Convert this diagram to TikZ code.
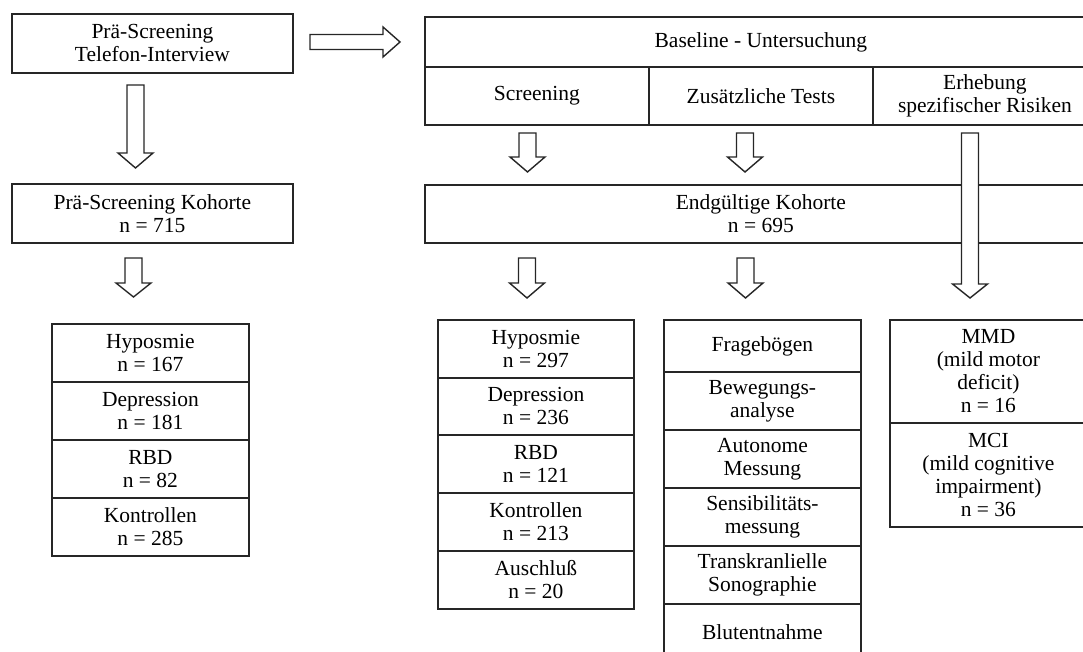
\documentclass[tikz,border=0pt]{standalone}
\usepackage{fontspec}
\setmainfont{Liberation Serif}
\newcommand\fs{\fontsize{21.5}{23}\selectfont}
\tikzset{
  box/.style={draw=black!85, line width=1.8pt, fill=white, inner sep=0pt,
              anchor=north west, align=center, font=\fs},
  blk/.style={draw=black!85, line width=1.4pt, fill=white, line join=miter},
}
\newcommand\blockdown[4]{%
  \draw[blk] ({#1-8.5},#2) -- ({#1+8.5},#2) -- ({#1+8.5},#3) -- ({#1+17.5},#3)
    -- (#1,#4) -- ({#1-17.5},#3) -- ({#1-8.5},#3) -- cycle;}
\begin{document}
\begin{tikzpicture}[x=1pt,y=-1pt]
\useasboundingbox (0,0) rectangle (1083,652);
\clip (0,0) rectangle (1083,652);

% left column
\node[box, minimum width=281pt, minimum height=59pt] (tel) at (11,13) {Prä-Screening\\Telefon-Interview};
\node[box, minimum width=281pt, minimum height=59pt] (psk) at (11,183) {Prä-Screening Kohorte\\n = 715};
\node[box, minimum width=197pt, minimum height=58pt] (lh) at (51,323) {Hyposmie\\n = 167};
\node[box, minimum width=197pt, minimum height=58pt] (ld) at (51,381) {Depression\\n = 181};
\node[box, minimum width=197pt, minimum height=58pt] (lr) at (51,439) {RBD\\n = 82};
\node[box, minimum width=197pt, minimum height=58pt] (lk) at (51,497) {Kontrollen\\n = 285};

% baseline
\node[box, minimum width=672pt, minimum height=50pt] (base) at (424,16) {Baseline - Untersuchung};
\node[box, minimum width=224pt, minimum height=58pt] (scr) at (424,66) {Screening};
\node[box, minimum width=224pt, minimum height=58pt] (zus) at (648,66) {Zusätzliche Tests};
\node[box, minimum width=224pt, minimum height=58pt] (erh) at (872,66) {Erhebung\\spezifischer Risiken};

% endgueltige kohorte
\node[box, minimum width=672pt, minimum height=58pt] (end) at (424,184) {Endgültige Kohorte\\n = 695};

% stack 2
\node[box, minimum width=196pt, minimum height=58pt] (rh) at (437,319) {Hyposmie\\n = 297};
\node[box, minimum width=196pt, minimum height=57pt] (rd) at (437,377) {Depression\\n = 236};
\node[box, minimum width=196pt, minimum height=58pt] (rr) at (437,434) {RBD\\n = 121};
\node[box, minimum width=196pt, minimum height=58pt] (rk) at (437,492) {Kontrollen\\n = 213};
\node[box, minimum width=196pt, minimum height=58pt] (ra) at (437,550) {Auschluß\\n = 20};

% stack 3
\node[box, minimum width=197pt, minimum height=52pt] (t1) at (663,319) {Fragebögen};
\node[box, minimum width=197pt, minimum height=58pt] (t2) at (663,371) {Bewegungs-\\analyse};
\node[box, minimum width=197pt, minimum height=58pt] (t3) at (663,429) {Autonome\\Messung};
\node[box, minimum width=197pt, minimum height=58pt] (t4) at (663,487) {Sensibilitäts-\\messung};
\node[box, minimum width=197pt, minimum height=58pt] (t5) at (663,545) {Transkranlielle\\Sonographie};
\node[box, minimum width=197pt, minimum height=56pt] (t6) at (663,603) {Blutentnahme};

% stack 4
\node[box, minimum width=197pt, minimum height=103pt] (mmd) at (889,319) {MMD\\(mild motor\\deficit)\\n = 16};
\node[box, minimum width=197pt, minimum height=104pt] (mci) at (889,422) {MCI\\(mild cognitive\\impairment)\\n = 36};

% block arrows
\draw[blk] (310,34.5) -- (383,34.5) -- (383,27) -- (400,42) -- (383,57) -- (383,49.5) -- (310,49.5) -- cycle;
\blockdown{135.5}{85}{153}{168}
\blockdown{133.5}{258}{283}{297}
\blockdown{527.5}{133}{157}{172}
\blockdown{745}{133}{157}{172}
\blockdown{970}{133}{284}{298}
\blockdown{527}{258}{283}{298}
\blockdown{745.5}{258}{283}{298}
\end{tikzpicture}
\end{document}
